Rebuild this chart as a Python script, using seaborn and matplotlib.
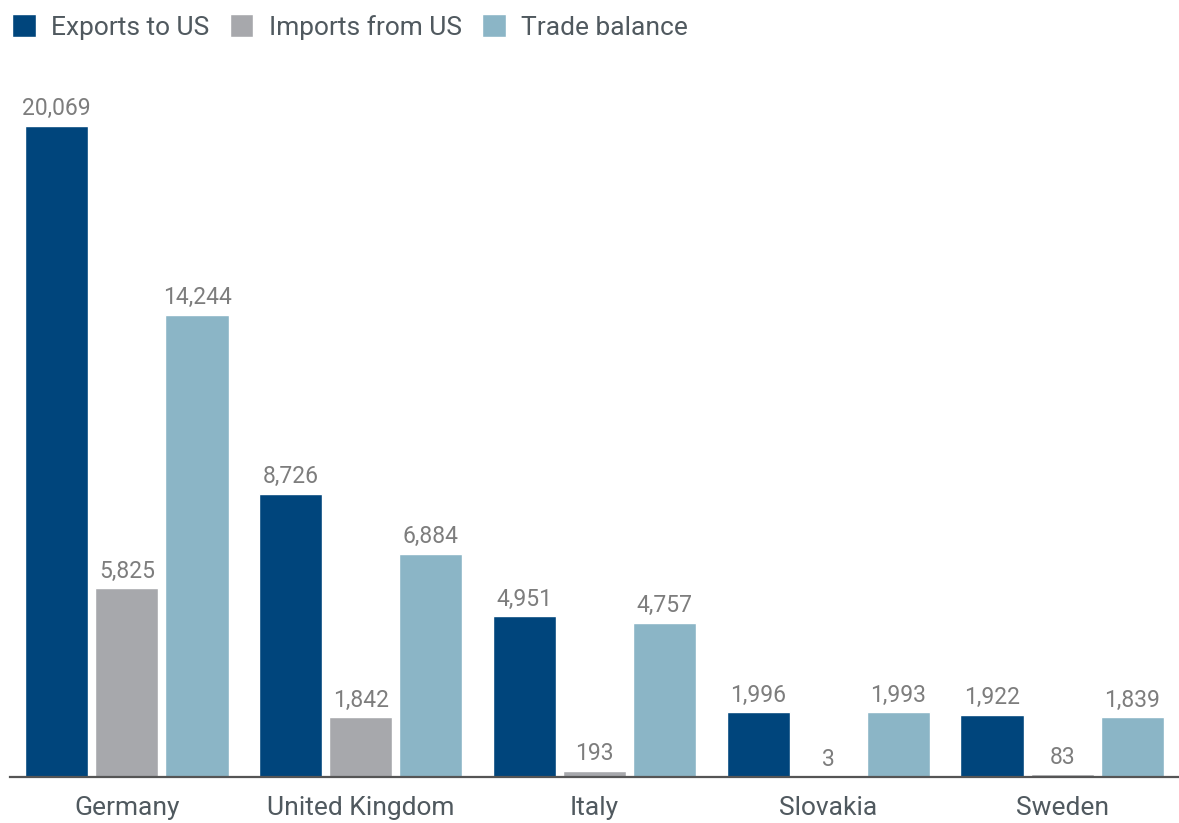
import matplotlib
matplotlib.use("Agg")
from matplotlib import pyplot as plt
import seaborn as sns
import pandas as pd

countries = ["Germany", "United Kingdom", "Italy", "Slovakia", "Sweden"]
series = ["Exports to US", "Imports from US", "Trade balance"]
exports_to_us = [20069, 8726, 4951, 1996, 1922]
imports_from_us = [5825, 1842, 193, 3, 83]
trade_balance = [14244, 6884, 4757, 1993, 1839]
colors = ["#00457c", "#a7a8ac", "#8bb5c6"]

df = pd.DataFrame({
    "country": countries * 3,
    "series": [s for s in series for _ in countries],
    "value": exports_to_us + imports_from_us + trade_balance,
})

sns.set_style("white")
plt.rcParams["font.family"] = ["Roboto", "DejaVu Sans"]

fig = plt.figure(figsize=(11.79, 8.23), dpi=100)
ax = fig.add_axes([10 / 1179, 1 - 777 / 823, 1 - 10 / 1179, (777 - 95.8) / 823])

sns.barplot(data=df, x="country", y="value", hue="series", order=countries,
            hue_order=series, palette=colors, width=0.9, gap=0.1,
            saturation=1, ax=ax, legend=True)

for cont in ax.containers:
    ax.bar_label(cont, labels=[f"{v:,.0f}" for v in cont.datavalues],
                 padding=4, fontsize=16.5, color="#7d7d7d")

ax.set_xlim(-0.5, 4.5)
ax.set_ylim(0, 21000)
ax.set_xlabel("")
ax.set_ylabel("")
ax.set_yticks([])
ax.tick_params(axis="x", length=0, labelsize=19, labelcolor="#50595f", pad=14)
for s in ["top", "right", "left"]:
    ax.spines[s].set_visible(False)
ax.spines["bottom"].set_color("#555555")
ax.spines["bottom"].set_linewidth(1.6)

handles, labels = ax.get_legend_handles_labels()
ax.get_legend().remove()
fig.legend(handles, labels, loc="upper left", bbox_to_anchor=(0.0, 0.997), ncol=3,
           frameon=False, fontsize=19, labelcolor="#50595f",
           handlelength=0.9, handleheight=0.95, handletextpad=0.6,
           columnspacing=0.75, borderaxespad=0.25, borderpad=0.2)

fig.savefig("out.png", dpi=100, facecolor="white")
